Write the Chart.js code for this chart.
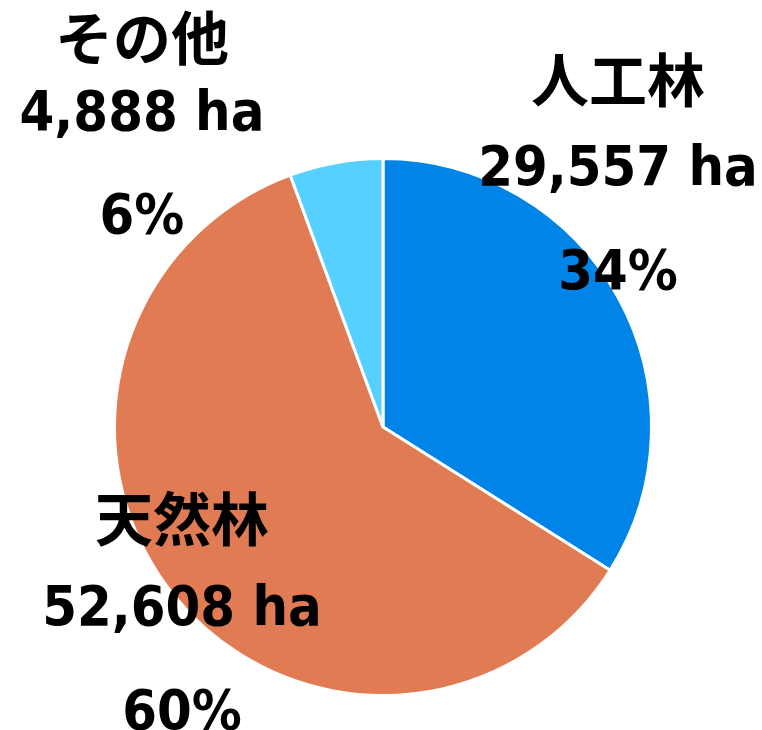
<!DOCTYPE html>
<html>
<head>
<meta charset="utf-8">
<script src="https://cdn.jsdelivr.net/npm/chart.js@4"></script>
<style>
  html, body { margin:0; padding:0; background:#fff; }
  #wrap { width:762px; height:730px; }
</style>
</head>
<body>
<div id="wrap"><canvas id="pie" width="762" height="730"></canvas></div>
<script>
// ---------- Data ----------
const categories = ['人工林', '天然林', 'その他'];
const areasHa    = [29557, 52608, 4888];
const percents   = ['34%', '60%', '6%'];
const colors     = ['#0084E8', '#E07B53', '#55D0FF'];

// label anchor (x centre, baselines for name / area / percent)
const labelPos = [
  { x: 618, name: 80,  area: 185, pct: 289 },
  { x: 182, name: 519, area: 625, pct: 729 },
  { x: 142, name: 38,  area: 130, pct: 233 }
];

const fmtHa = v => v.toLocaleString('en-US') + ' ha';

// draw text a little taller than DejaVu's natural proportions (Meiryo-like)
function tallText(ctx, txt, x, y, sy){
  ctx.save();
  ctx.translate(x, y);
  ctx.scale(1, sy);
  ctx.fillText(txt, 0, 0);
  ctx.restore();
}

// ---------- Label plugin ----------
const outsideLabels = {
  id: 'outsideLabels',
  afterDraw(chart){
    const ctx = chart.ctx;
    ctx.save();
    ctx.fillStyle = '#000';
    ctx.textAlign = 'center';
    categories.forEach((name, i) => {
      const p = labelPos[i];
      ctx.font = 'bold 58px "Noto Sans CJK JP"';
      ctx.textBaseline = 'middle';
      ctx.fillText(name, p.x, p.name);
      ctx.font = 'bold 50px "DejaVu Sans"';
      ctx.textBaseline = 'alphabetic';
      tallText(ctx, fmtHa(areasHa[i]), p.x, p.area, 1.09);
      tallText(ctx, percents[i], p.x, p.pct, 1.09);
    });
    ctx.restore();
  }
};

// ---------- Chart ----------
new Chart(document.getElementById('pie'), {
  type: 'pie',
  data: {
    labels: categories,
    datasets: [{
      data: areasHa,
      backgroundColor: colors,
      borderColor: '#ffffff',
      borderWidth: 3
    }]
  },
  options: {
    responsive: false,
    animation: false,
    layout: { padding: { left: 113, right: 109, top: 157, bottom: 33 } },
    plugins: {
      legend: { display: false },
      tooltip: { enabled: false }
    }
  },
  plugins: [outsideLabels]
});
</script>
</body>
</html>
